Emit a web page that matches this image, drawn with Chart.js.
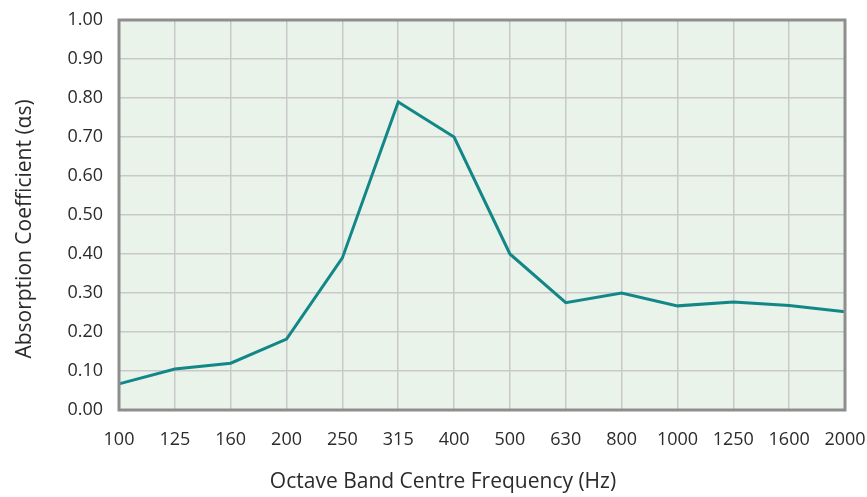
<!DOCTYPE html>
<html>
<head>
    <title>Absorption Coefficient</title>
    <script src="https://cdn.jsdelivr.net/npm/chart.js"></script>
    <style>
        body { margin: 0; background: #ffffff; }
        .chart-container { position: relative; width: 867px; height: 497px; }
    </style>
</head>
<body>
<div class="chart-container">
    <canvas id="absorption"></canvas>
</div>
<script>
    const frequencies = ['100', '125', '160', '200', '250', '315', '400', '500', '630', '800', '1000', '1250', '1600', '2000'];
    const absorption = [0.067, 0.105, 0.12, 0.182, 0.39, 0.79, 0.70, 0.40, 0.275, 0.30, 0.267, 0.277, 0.268, 0.252];
    const x_title = 'Octave Band Centre Frequency (Hz)';
    const y_title = 'Absorption Coefficient (αs)';

    const font_family = "'Open Sans', 'Noto Sans', sans-serif";

    // light green plot background, grey frame, axis titles
    const plot_frame = {
        id: 'plot_frame',
        beforeDraw(chart) {
            const a = chart.chartArea;
            const ctx = chart.ctx;
            ctx.save();
            ctx.fillStyle = '#e9f3ea';
            ctx.fillRect(a.left, a.top, a.right - a.left, a.bottom - a.top);
            ctx.restore();
        },
        afterDatasetsDraw(chart) {
            const a = chart.chartArea;
            const ctx = chart.ctx;
            ctx.save();
            ctx.strokeStyle = '#8e8e8e';
            ctx.lineWidth = 3;
            ctx.strokeRect(a.left, a.top, a.right - a.left, a.bottom - a.top);
            ctx.restore();
        },
        afterDraw(chart) {
            const ctx = chart.ctx;
            ctx.save();
            ctx.fillStyle = '#2b2b2b';
            ctx.font = '21px ' + font_family;
            ctx.textAlign = 'center';
            ctx.textBaseline = 'middle';
            ctx.fillText(x_title, 443, 482);
            ctx.translate(25, 229);
            ctx.rotate(-Math.PI / 2);
            ctx.fillText(y_title, 0, 0);
            ctx.restore();
        }
    };

    const canvas = document.getElementById('absorption');
    const chart = new Chart(canvas, {
        type: 'line',
        data: {
            labels: frequencies,
            datasets: [{
                label: 'Absorption Coefficient',
                data: absorption,
                borderColor: '#138787',
                borderWidth: 3,
                pointRadius: 0,
                tension: 0,
                fill: false
            }]
        },
        options: {
            responsive: true,
            maintainAspectRatio: false,
            animation: false,
            layout: {
                padding: { top: 0, right: 2, left: 0, bottom: 0 }
            },
            plugins: {
                legend: { display: false },
                tooltip: { enabled: false }
            },
            scales: {
                x: {
                    offset: false,
                    grid: { color: '#c9c9c9', lineWidth: 1.5, drawTicks: false },
                    border: { display: false },
                    afterFit(scale) {
                        // room for the half of "2000" past the frame, and the title below
                        scale.paddingRight = 22;
                        scale.height = 87;
                    },
                    ticks: {
                        color: '#2b2b2b',
                        padding: 19,
                        maxRotation: 0,
                        autoSkip: false,
                        font: { family: font_family, size: 18 }
                    }
                },
                y: {
                    min: 0,
                    max: 1,
                    grid: { color: '#c9c9c9', lineWidth: 1.5, drawTicks: false },
                    border: { display: false },
                    afterFit(scale) {
                        scale.width = 119;
                        scale.paddingTop = 20;
                    },
                    ticks: {
                        stepSize: 0.1,
                        color: '#2b2b2b',
                        padding: 16,
                        font: { family: font_family, size: 18 },
                        callback: v => v.toFixed(2)
                    }
                }
            }
        },
        plugins: [plot_frame]
    });
</script>
</body>
</html>
